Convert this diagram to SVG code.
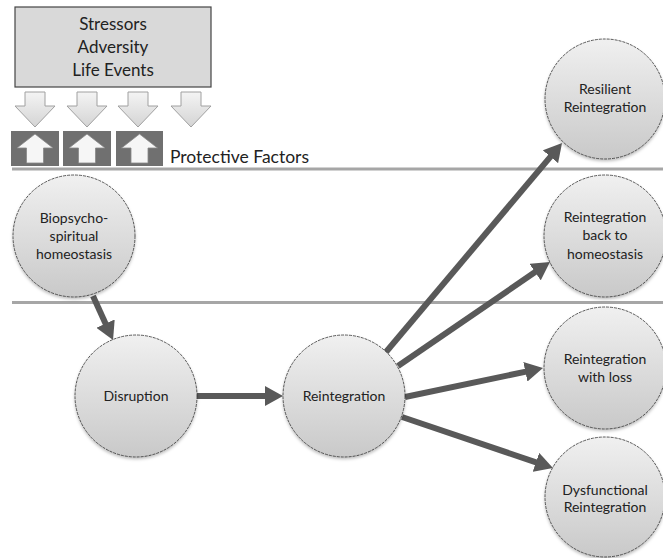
<svg xmlns="http://www.w3.org/2000/svg" width="663" height="558" viewBox="0 0 663 558">
<defs>
<linearGradient id="cg" x1="0" y1="0" x2="0" y2="1">
<stop offset="0" stop-color="#f0f0f0"/>
<stop offset="1" stop-color="#c9c9c9"/>
</linearGradient>
<linearGradient id="ag" x1="0" y1="0" x2="0" y2="1">
<stop offset="0" stop-color="#f4f4f4"/>
<stop offset="1" stop-color="#d4d4d4"/>
</linearGradient>
<marker id="ah" viewBox="0 0 18 20" refX="8" refY="10" markerWidth="18" markerHeight="20" markerUnits="userSpaceOnUse" orient="auto">
<path d="M0,0 L18,10 L0,20 z" fill="#595959"/>
</marker>
<filter id="sh" x="-20%" y="-20%" width="140%" height="140%">
<feDropShadow dx="0" dy="2" stdDeviation="1.5" flood-color="#000" flood-opacity="0.25"/>
</filter>
</defs>
<style>
.t{font-family:Lato,"Open Sans","Liberation Sans",sans-serif;fill:#222;text-anchor:middle}
.c{fill:url(#cg);stroke:#333;stroke-width:0.8;stroke-dasharray:3 1;filter:url(#sh)}
.sep{stroke:#a6a6a6;stroke-width:3}
.da{fill:url(#ag);stroke:#a0a0a0;stroke-width:1}
.pb{fill:#707070}
.ua{fill:#f6f6f6;stroke:#888;stroke-width:0.8}
.con{stroke:#595959;stroke-width:6;fill:none;marker-end:url(#ah)}
</style>
<rect width="663" height="558" fill="#fff"/>
<line class="sep" x1="12" y1="169" x2="663" y2="169"/>
<line class="sep" x1="12" y1="302.5" x2="663" y2="302.5"/>
<g id="stressors">
<rect x="15" y="7" width="196" height="80" fill="#d9d9d9" stroke="#444" stroke-width="1.2"/>
<text class="t" x="113" y="30" font-size="17">Stressors</text>
<text class="t" x="113" y="53" font-size="17">Adversity</text>
<text class="t" x="113" y="76" font-size="17">Life Events</text>
</g>
<g id="down-arrows">
<polygon class="da" points="25,92 45,92 45,106 55,106 35,127 15,106 25,106"/>
<polygon class="da" points="77,92 97,92 97,106 107,106 87,127 67,106 77,106"/>
<polygon class="da" points="128,92 148,92 148,106 158,106 138,127 118,106 128,106"/>
<polygon class="da" points="181,92 201,92 201,106 211,106 191,127 171,106 181,106"/>
</g>
<g id="protective-factors">
<rect class="pb" x="11" y="131" width="48" height="35"/>
<rect class="pb" x="63" y="131" width="48" height="35"/>
<rect class="pb" x="116" y="131" width="47" height="35"/>
<polygon class="ua" points="35,134 53,148 43.5,148 43.5,163 26.5,163 26.5,148 17,148"/>
<polygon class="ua" points="87,134 105,148 95.5,148 95.5,163 78.5,163 78.5,148 69,148"/>
<polygon class="ua" points="139.5,134 157.5,148 148,148 148,163 131,163 131,148 121.5,148"/>
<text class="t" x="170" y="163" font-size="17.5" style="text-anchor:start">Protective Factors</text>
</g>
<g id="connectors">
<line class="con" x1="93" y1="296" x2="108.9" y2="330.9"/>
<line class="con" x1="197" y1="396" x2="273" y2="396"/>
<line class="con" x1="386" y1="352" x2="555.6" y2="150.6"/>
<line class="con" x1="398" y1="366" x2="541.7" y2="267.6"/>
<line class="con" x1="405" y1="397" x2="533.2" y2="370.1"/>
<line class="con" x1="402" y1="417" x2="543.5" y2="464.8"/>
</g>
<g id="homeostasis">
<circle class="c" cx="74" cy="236" r="61"/>
<text class="t" x="74" y="223" font-size="14">Biopsycho-</text>
<text class="t" x="74" y="241" font-size="14">spiritual</text>
<text class="t" x="74" y="259" font-size="14">homeostasis</text>
</g>
<g id="disruption">
<circle class="c" cx="136" cy="396" r="61"/>
<text class="t" x="136" y="401" font-size="14">Disruption</text>
</g>
<g id="reintegration">
<circle class="c" cx="344" cy="396" r="61"/>
<text class="t" x="344" y="401" font-size="14">Reintegration</text>
</g>
<g id="resilient">
<circle class="c" cx="605" cy="99" r="60"/>
<text class="t" x="605" y="94" font-size="14">Resilient</text>
<text class="t" x="605" y="112" font-size="14">Reintegration</text>
</g>
<g id="back-to-homeostasis">
<circle class="c" cx="605" cy="236" r="61"/>
<text class="t" x="605" y="222" font-size="14">Reintegration</text>
<text class="t" x="605" y="240" font-size="14">back to</text>
<text class="t" x="605" y="259" font-size="14">homeostasis</text>
</g>
<g id="with-loss">
<circle class="c" cx="605" cy="368" r="61"/>
<text class="t" x="605" y="364" font-size="14">Reintegration</text>
<text class="t" x="605" y="382" font-size="14">with loss</text>
</g>
<g id="dysfunctional">
<circle class="c" cx="605" cy="497" r="60"/>
<text class="t" x="605" y="495" font-size="14">Dysfunctional</text>
<text class="t" x="605" y="512" font-size="14">Reintegration</text>
</g>
</svg>
